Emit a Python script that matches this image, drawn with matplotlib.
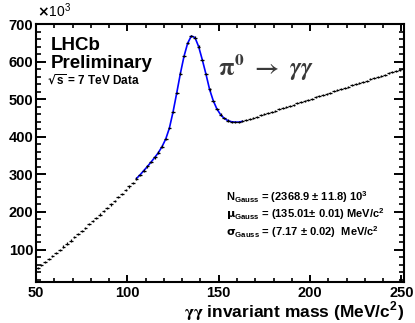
import matplotlib
matplotlib.use("Agg")
import matplotlib.pyplot as plt
import numpy as np

# bin centres (2 MeV bins) and entries per bin in units of 10^3
mass = np.arange(51, 252, 2)
counts = [
    50, 58, 66, 75, 83, 91, 99, 108, 116, 124,
    133, 141, 150, 158, 167, 175, 184, 193, 202, 211,
    220, 229, 239, 248, 258, 268, 278, 289, 299, 310,
    321, 333, 345, 358, 374, 394, 423, 466, 516, 568,
    614, 649, 668, 664, 640, 605, 567, 526, 496, 474,
    459, 449, 443, 440, 439, 439, 441, 444, 447, 450,
    453, 457, 460, 463, 466, 469, 473, 476, 479, 482,
    485, 489, 492, 495, 498, 501, 505, 508, 511, 514,
    517, 521, 524, 527, 530, 533, 537, 540, 543, 546,
    549, 553, 556, 559, 562, 565, 569, 572, 575, 578,
    581,
]
fit_range = (105, 163)

fit_lines = [
    r"N$_{\mathregular{Gauss}}$ = (2368.9 ± 11.8) 10$^{\mathregular{3}}$",
    r"$\mathrm{\mu}_{\mathregular{Gauss}}$ = (135.01± 0.01) MeV/c$^{\mathregular{2}}$",
    r"$\mathrm{\sigma}_{\mathregular{Gauss}}$ = (7.17 ± 0.02)  MeV/c$^{\mathregular{2}}$",
]

plt.rcParams["font.family"] = ["Liberation Sans", "DejaVu Sans"]
plt.rcParams["font.weight"] = "bold"

W, H = 415, 323
fig = plt.figure(figsize=(W / 100, H / 100), dpi=100)
ax = fig.add_axes([36 / W, 1 - 281.5 / H, (404 - 36) / W, (281.5 - 24) / H])

mass = np.asarray(mass)
counts = np.asarray(counts)
sel = (mass >= fit_range[0]) & (mass <= fit_range[1])
ax.plot(mass[sel], counts[sel], color="#0000ff", lw=1.2, zorder=2)
ax.errorbar(mass, counts, xerr=1, yerr=3, fmt="none", ecolor="black",
            elinewidth=0.9, zorder=3)

ax.set_xlim(50, 251.4)
ax.set_ylim(15, 700)
ax.set_xticks([50, 100, 150, 200, 250])
ax.set_xticks(np.arange(60, 251, 10), minor=True)
ax.set_yticks([100, 200, 300, 400, 500, 600, 700])
ax.set_yticks(np.arange(20, 701, 20), minor=True)
ax.tick_params(axis="both", which="both", direction="in", top=True, right=True)
ax.tick_params(axis="x", which="major", length=5, width=1.4, labelsize=10.5, pad=3)
ax.tick_params(axis="x", which="minor", length=2.8, width=1.2)
ax.tick_params(axis="y", which="major", length=7, width=1.4, labelsize=10.5, pad=2)
ax.tick_params(axis="y", which="minor", length=3.5, width=1.2)
for s in ax.spines.values():
    s.set_linewidth(1.5)

fig.text(37 / W, 1 - 17 / H, r"$\times$10$^{\mathregular{3}}$", fontsize=10,
         fontweight="normal", ha="left", va="baseline")

fig.text(51 / W, 1 - 50 / H, "LHCb", fontsize=13.5, fontweight="bold",
         va="baseline")
fig.text(51 / W, 1 - 68 / H, "Preliminary", fontsize=13.5, fontweight="bold",
         va="baseline")
fig.text(47 / W, 1 - 85 / H, r"$\sqrt{\mathregular{s}}$ = 7 TeV Data",
         fontsize=8.5, fontweight="bold", va="baseline")

fig.text(218 / W, 1 - 76 / H,
         r"$\mathrm{\pi}^{0}\ \rightarrow\ \gamma\gamma$",
         fontsize=18, fontweight="normal", color="#3a3a3a",
         math_fontfamily="stix", va="baseline")

for i, line in enumerate(fit_lines):
    fig.text(226 / W, 1 - (201 + i * 17.5) / H, line, fontsize=8,
             fontweight="bold", va="baseline")

fig.text(404 / W, 1 - 317 / H,
         r"$\mathrm{\gamma\gamma}$ invariant mass (MeV/c$^{\mathregular{2}}$)",
         fontsize=12.5, fontweight="bold", ha="right", va="baseline",
         math_fontfamily="stix")

fig.savefig("out.png", dpi=100)
